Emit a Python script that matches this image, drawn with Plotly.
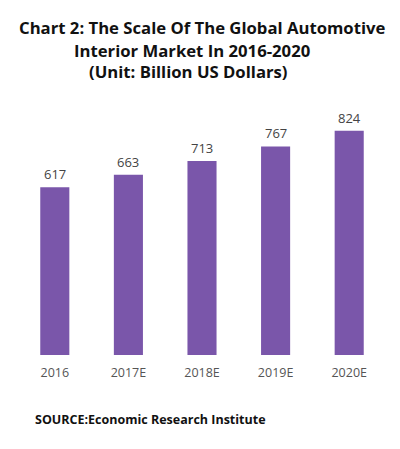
import plotly.graph_objects as go

categories = ["2016", "2017E", "2018E", "2019E", "2020E"]
values = [617, 663, 713, 767, 824]
title_lines = ["Chart 2: The Scale Of The Global Automotive",
               "Interior Market In 2016-2020",
               "(Unit: Billion US Dollars)"]
source_text = "SOURCE:Economic Research Institute"

W, H = 400, 449
plot_top, plot_bottom = 120, 355
left, right = 18.25, 385.75
ymax = (plot_bottom - plot_top) / 0.272


def px(x):
    return (x - left) / (right - left)


def py(y):
    return (plot_bottom - y) / (plot_bottom - plot_top)


fig = go.Figure()
fig.add_trace(go.Bar(
    x=categories, y=values, width=0.395,
    marker=dict(color="#7a56aa", line=dict(width=0)),
    hoverinfo="skip",
))

for i, v in enumerate(values):
    fig.add_annotation(x=i, y=v, text=str(v), showarrow=False,
                       yanchor="bottom", yshift=2,
                       font=dict(family="Open Sans", size=13, color="#444444"))

title_y = [27, 50, 72]
title_x = [202, 192, 189]
for t, xx, yy in zip(title_lines, title_x, title_y):
    fig.add_annotation(x=px(xx), y=py(yy), xref="paper", yref="paper",
                       text="<b>" + t + "</b>", showarrow=False,
                       xanchor="center", yanchor="middle",
                       font=dict(family="Open Sans", size=16.7, color="#111111"))

fig.add_annotation(x=px(33), y=py(419), xref="paper", yref="paper",
                   text="<b>" + source_text + "</b>", showarrow=False,
                   xanchor="left", yanchor="middle",
                   font=dict(family="Open Sans", size=12.5, color="#111111"))

fig.update_layout(
    width=W, height=H,
    margin=dict(l=left, r=W - right, t=plot_top, b=H - plot_bottom, autoexpand=False),
    paper_bgcolor="white", plot_bgcolor="white",
    showlegend=False,
    xaxis=dict(type="category", range=[-0.5, 4.5], showline=False, showgrid=False,
               zeroline=False, ticks="",
               tickfont=dict(family="Open Sans", size=12.5, color="#555555"),
               ticklabelstandoff=8),
    yaxis=dict(range=[0, ymax], visible=False),
)

fig.write_html("out.html", config={"displayModeBar": False},
               post_script="document.body.style.margin='0';")
